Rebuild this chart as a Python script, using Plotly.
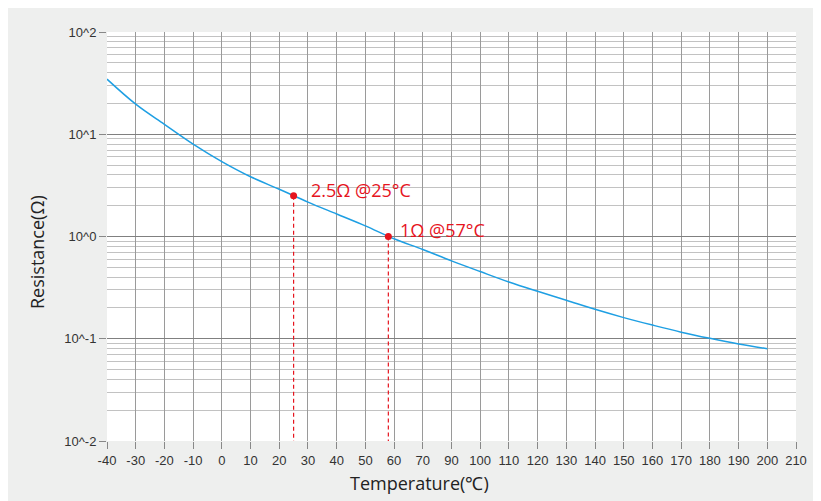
import math
import plotly.graph_objects as go

# ---- data (x in axis units; curve) ----
temp_pos = [-40, -30, -20, -10, 0, 10, 20, 30, 40, 50, 60, 70, 80, 90,
            100, 110, 120, 130, 140, 150, 160, 170, 180, 190]
resistance = [34.6, 19.7, 12.5, 8.0, 5.4, 3.84, 2.9, 2.17, 1.66, 1.27, 0.95,
              0.746, 0.577, 0.454, 0.359, 0.291, 0.238, 0.194, 0.161, 0.136,
              0.116, 0.101, 0.089, 0.080]

x_tickvals = [-40, -30, -20, -10, 0, 10, 20, 30, 40, 50, 60, 70, 80, 90, 100,
              110, 120, 130, 140, 150, 160, 170, 180, 190, 200]
x_ticktext = ["-40", "-30", "-20", "-10", "0", "10", "20", "30", "40", "50",
              "60", "70", "90", "100", "110", "120", "130", "140", "150",
              "160", "170", "180", "190", "200", "210"]
y_tickvals = [0.01, 0.1, 1, 10, 100]
y_ticktext = ["10^-2", "10^-1", "10^0", "10^1", "10^2"]

mark_x = [25, 58]
mark_y = [2.5, 1.0]
mark_text = ["2.5Ω @25°C", "1Ω @57°C"]
y_floor = 0.01

RED = "#e6141e"
BLUE = "#1e9fe3"
BG = "#eeefee"

minor_vals = [m * 10.0 ** e for e in range(-2, 2) for m in range(2, 10)]

fig = go.Figure()
fig.add_trace(go.Scatter(x=temp_pos, y=resistance, mode="lines",
                         line=dict(color=BLUE, width=1.5, shape="spline"),
                         hoverinfo="skip"))
for mx, my in zip(mark_x, mark_y):
    fig.add_trace(go.Scatter(x=[mx, mx], y=[my, y_floor], mode="lines",
                             line=dict(color=RED, width=1.2, dash="4px,3px"),
                             hoverinfo="skip"))
fig.add_trace(go.Scatter(x=mark_x, y=mark_y, mode="markers",
                         marker=dict(color=RED, size=7), hoverinfo="skip"))

# page is offset by the browser's 8px body margin
OFF = 8
L, R, T, B, W, H = 107 - OFF, 33, 32 - OFF, 68, 821, 501
pw, ph = W - L - R, H - T - B

def px2x(p):
    return (p - OFF - L) / pw

def py2y(p):
    return (H - B - (p - OFF)) / ph

# annotations for the marked points (log axis -> log10 coords)
fig.add_annotation(x=30.3, y=math.log10(2.85), xref="x", yref="y",
                   text=mark_text[0], showarrow=False, xanchor="left",
                   yanchor="middle",
                   font=dict(family="Open Sans", size=18, color=RED))
fig.add_annotation(x=61.3, y=math.log10(1.16), xref="x", yref="y",
                   text=mark_text[1], showarrow=False, xanchor="left",
                   yanchor="middle",
                   font=dict(family="Open Sans", size=18, color=RED))

# axis titles
fig.add_annotation(x=px2x(419.5), y=py2y(483), xref="paper", yref="paper",
                   text="Temperature(℃)", showarrow=False,
                   xanchor="center", yanchor="middle",
                   font=dict(family="Open Sans", size=18, color="#222"))
fig.add_annotation(x=px2x(37), y=py2y(252), xref="paper", yref="paper",
                   text="Resistance(Ω)", showarrow=False, textangle=-90,
                   xanchor="center", yanchor="middle",
                   font=dict(family="Open Sans", size=18, color="#222"))

tickfont = dict(family="Liberation Sans", size=13, color="#333")
fig.update_xaxes(range=[-40, 200], tickmode="array", tickvals=x_tickvals,
                 ticktext=x_ticktext, ticks="outside", ticklen=7,
                 tickcolor="#888", showgrid=True, gridcolor="#9a9a9a",
                 gridwidth=1, zeroline=False, showline=False,
                 tickfont=tickfont)
fig.update_yaxes(type="log", range=[-2, 2], tickmode="array",
                 tickvals=y_tickvals, ticktext=y_ticktext, ticks="outside",
                 ticklen=7, tickcolor="#888", showgrid=True,
                 gridcolor="#808080", gridwidth=1, zeroline=False,
                 showline=False, tickfont=tickfont,
                 minor=dict(tickmode="array", tickvals=minor_vals,
                            showgrid=True, gridcolor="#c2c2c2",
                            gridwidth=1.3, ticks=""))
fig.update_layout(width=W, height=H, showlegend=False,
                  margin=dict(l=L, r=R, t=T, b=B, pad=0),
                  paper_bgcolor=BG, plot_bgcolor="white")
fig.write_html("out.html")
